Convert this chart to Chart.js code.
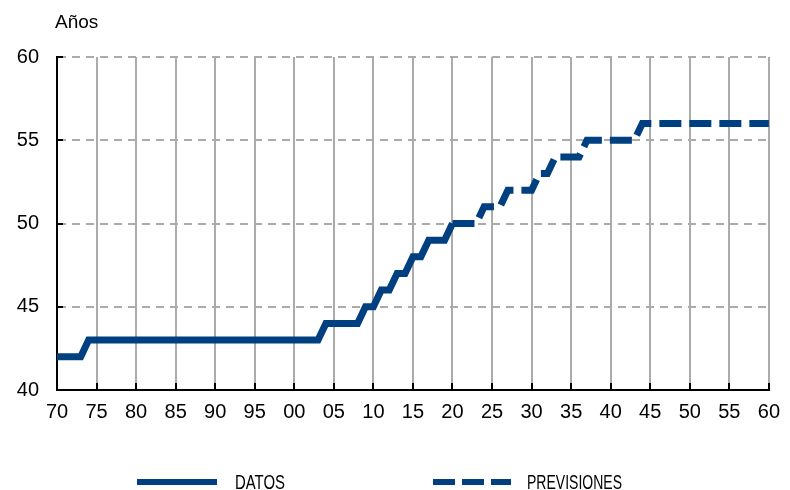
<!DOCTYPE html>
<html>
<head>
<meta charset="utf-8">
<script src="https://cdn.jsdelivr.net/npm/chart.js@4.4.1/dist/chart.umd.min.js"></script>
<style>
  html, body { margin: 0; padding: 0; background: #fff; }
  #wrap { position: relative; width: 790px; height: 490px; }
</style>
</head>
<body>
<div id="wrap"><canvas id="grafico" width="790" height="490"></canvas></div>
<script>
// Datos (años y valores)
const datosAnos = [1970, 1971, 1972, 1973, 1974, 1975, 1976, 1977, 1978, 1979,
  1980, 1981, 1982, 1983, 1984, 1985, 1986, 1987, 1988, 1989,
  1990, 1991, 1992, 1993, 1994, 1995, 1996, 1997, 1998, 1999,
  2000, 2001, 2002, 2003, 2004, 2005, 2006, 2007, 2008, 2009,
  2010, 2011, 2012, 2013, 2014, 2015, 2016, 2017, 2018, 2019, 2020];
const datosValores = [42, 42, 42, 42, 43, 43, 43, 43, 43, 43,
  43, 43, 43, 43, 43, 43, 43, 43, 43, 43,
  43, 43, 43, 43, 43, 43, 43, 43, 43, 43,
  43, 43, 43, 43, 44, 44, 44, 44, 44, 45,
  45, 46, 46, 47, 47, 48, 48, 49, 49, 49, 50];

// Previsiones
const previsionesAnos = [2020, 2021, 2022, 2023, 2024, 2025, 2026, 2027, 2028, 2029,
  2030, 2031, 2032, 2033, 2034, 2035, 2036, 2037, 2038, 2039,
  2040, 2041, 2042, 2043, 2044, 2045, 2046, 2047, 2048, 2049,
  2050, 2051, 2052, 2053, 2054, 2055, 2056, 2057, 2058, 2059, 2060];
const previsionesValores = [50, 50, 50, 50, 51, 51, 51, 52, 52, 52,
  52, 53, 53, 54, 54, 54, 54, 55, 55, 55,
  55, 55, 55, 55, 56, 56, 56, 56, 56, 56,
  56, 56, 56, 56, 56, 56, 56, 56, 56, 56, 56];

const etiquetas = ["DATOS", "PREVISIONES"];
const tituloEje = "Años";

const AZUL = "#003F80";
const GRIS = "#ABABAB";
const fuente = "'Liberation Sans', Arial, sans-serif";

function puntos(xs, ys) {
  return xs.map((x, i) => ({ x: x, y: ys[i] }));
}

// marcas interiores, título y leyenda
const extras = {
  id: "extras",
  afterDraw(chart) {
    const ctx = chart.ctx;
    const x = chart.scales.x;
    const y = chart.scales.y;
    ctx.save();
    ctx.strokeStyle = "#000";
    ctx.lineWidth = 2;
    y.ticks.forEach(t => {
      const py = Math.round(y.getPixelForValue(t.value));
      ctx.beginPath();
      ctx.moveTo(x.left, py);
      ctx.lineTo(x.left + 6, py);
      ctx.stroke();
    });
    x.ticks.forEach(t => {
      const px = Math.round(x.getPixelForValue(t.value));
      ctx.beginPath();
      ctx.moveTo(px, y.bottom);
      ctx.lineTo(px, y.bottom - 7);
      ctx.stroke();
    });

    ctx.fillStyle = "#000";
    ctx.font = "19px " + fuente;
    ctx.textBaseline = "alphabetic";
    ctx.textAlign = "left";
    ctx.fillText(tituloEje, 55, 28);

    // leyenda
    const ly = 482;
    ctx.strokeStyle = AZUL;
    ctx.lineWidth = 6;
    ctx.beginPath();
    ctx.moveTo(137, ly);
    ctx.lineTo(217, ly);
    ctx.stroke();
    ctx.setLineDash([22, 7]);
    ctx.beginPath();
    ctx.moveTo(433, ly);
    ctx.lineTo(511, ly);
    ctx.stroke();
    ctx.setLineDash([]);
    ctx.font = "20px " + fuente;
    ctx.textBaseline = "middle";
    ctx.fillStyle = "#000";
    [[etiquetas[0], 235, 50], [etiquetas[1], 527, 95]].forEach(([txt, tx, ancho]) => {
      const w = ctx.measureText(txt).width;
      ctx.save();
      ctx.translate(tx, ly + 1);
      ctx.scale(ancho / w, 1);
      ctx.fillText(txt, 0, 0);
      ctx.restore();
    });
    ctx.restore();
  }
};

new Chart(document.getElementById("grafico"), {
  type: "line",
  data: {
    datasets: [
      {
        label: etiquetas[0],
        data: puntos(datosAnos, datosValores),
        borderColor: AZUL,
        borderWidth: 7,
        pointRadius: 0,
        tension: 0,
        fill: false
      },
      {
        label: etiquetas[1],
        data: puntos(previsionesAnos, previsionesValores),
        borderColor: AZUL,
        borderWidth: 7,
        borderDash: [22, 8],
        pointRadius: 0,
        tension: 0,
        fill: false
      }
    ]
  },
  options: {
    responsive: false,
    animation: false,
    layout: { padding: { top: 57, right: 20, bottom: 0, left: 0 } },
    plugins: { legend: { display: false }, tooltip: { enabled: false } },
    scales: {
      x: {
        type: "linear",
        min: 1970,
        max: 2060,
        afterFit(scale) { scale.height = 100; },
        ticks: {
          stepSize: 5,
          autoSkip: false,
          maxRotation: 0,
          padding: 10,
          color: "#000",
          font: { family: fuente, size: 20 },
          callback: v => String(v).slice(-2)
        },
        grid: {
          drawTicks: false,
          lineWidth: 2,
          color: c => (c.tick && c.tick.value === 1970 ? "rgba(0,0,0,0)" : GRIS)
        },
        border: { color: "#000", width: 2 }
      },
      y: {
        min: 40,
        max: 60,
        afterFit(scale) { scale.width = 57; },
        ticks: {
          stepSize: 5,
          padding: 18,
          color: "#000",
          font: { family: fuente, size: 20 }
        },
        grid: {
          drawTicks: false,
          lineWidth: 2,
          color: c => (c.tick && c.tick.value === 40 ? "rgba(0,0,0,0)" : GRIS)
        },
        border: { color: "#000", width: 2, dash: [8, 6] }
      }
    }
  },
  plugins: [extras]
});
</script>
</body>
</html>
